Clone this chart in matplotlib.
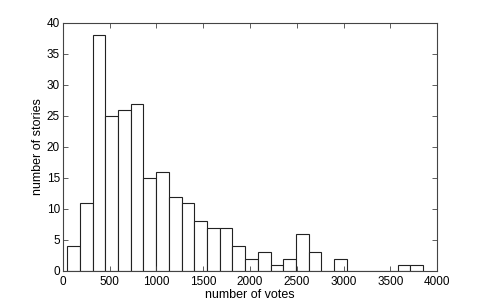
import numpy as np
import matplotlib
matplotlib.use("Agg")
import matplotlib.pyplot as plt

# histogram of votes per story
counts = [4, 11, 38, 25, 26, 27, 15, 16, 12, 11, 8, 7, 7, 4,
          2, 3, 1, 2, 6, 3, 0, 2, 0, 0, 0, 0, 1, 1]
bin_lo, bin_hi = 46, 3850
xticks = [0, 500, 1000, 1500, 2000, 2500, 3000, 3500, 4000]
yticks = [0, 5, 10, 15, 20, 25, 30, 35, 40]

plt.rcParams["font.family"] = ["Liberation Sans", "DejaVu Sans"]
plt.rcParams["font.size"] = 8.5

fig = plt.figure(figsize=(4.83, 3.05), dpi=100)
ax = fig.add_axes([0.130, 0.1115, 0.775, 0.8131])

edges = np.linspace(bin_lo, bin_hi, len(counts) + 1)
ax.bar(edges[:-1], counts, width=np.diff(edges), align="edge",
       facecolor="white", edgecolor="#222222", linewidth=0.8)

ax.set_xlim(0, 4000)
ax.set_ylim(0, 40)
ax.set_xticks(xticks)
ax.set_yticks(yticks)
ax.tick_params(direction="in", top=True, right=True, length=3.5,
               width=0.6, color="#444444")
ax.tick_params(axis="x", pad=3.5)
ax.tick_params(axis="y", pad=2)
for s in ax.spines.values():
    s.set_color("#444444")
    s.set_linewidth(0.8)

ax.set_xlabel("number of votes", fontsize=9, labelpad=0.5)
ax.set_ylabel("number of stories", fontsize=9, labelpad=2)

fig.savefig("out.png", dpi=100)
